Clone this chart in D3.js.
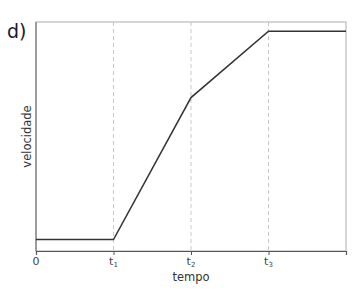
<!DOCTYPE html>
<html>
<head>
<meta charset="utf-8">
<script src="https://cdn.jsdelivr.net/npm/d3@7"></script>
<style>
  body { margin: 0; background: #fff; }
  svg text { font-family: "DejaVu Sans", sans-serif; }
</style>
</head>
<body>
<div id="chart"></div>
<script>
// time points (0, t1, t2, t3, end) and speeds
var times = [0, 1, 2, 3, 4];
var speeds = [0.5, 0.5, 6.7, 9.6, 9.6];
var tickTimes = [0, 1, 2, 3];
var tickNames = ["0", "t", "t", "t"];
var tickSubs = ["", "1", "2", "3"];

var width = 354, height = 293;
var margin = {top: 22, right: 8, bottom: 42, left: 36};

var svg = d3.select("#chart").append("svg")
  .attr("width", width)
  .attr("height", height);

var x = d3.scaleLinear().domain([0, 4]).range([margin.left, width - margin.right]);
var y = d3.scaleLinear().domain([0, 10]).range([height - margin.bottom, margin.top]);

// light frame on top and right
svg.append("rect")
  .attr("x", x(0)).attr("y", y(10))
  .attr("width", x(4) - x(0)).attr("height", y(0) - y(10))
  .attr("fill", "none")
  .attr("stroke", "#c8c8c8")
  .attr("stroke-width", 1.5);

// dashed guides at t1, t2, t3
svg.selectAll("line.guide")
  .data(tickTimes.slice(1))
  .enter().append("line")
  .attr("class", "guide")
  .attr("x1", function (d) { return x(d); })
  .attr("x2", function (d) { return x(d); })
  .attr("y1", y(10))
  .attr("y2", y(0))
  .attr("stroke", "#c8c8c8")
  .attr("stroke-dasharray", "4,3");

// left axis
svg.append("line")
  .attr("x1", x(0)).attr("x2", x(0))
  .attr("y1", y(10)).attr("y2", y(0))
  .attr("stroke", "#888").attr("stroke-width", 1.5);

// bottom axis
var xAxis = d3.axisBottom(x).tickValues(tickTimes).tickSize(4).tickFormat("");
var gx = svg.append("g")
  .attr("transform", "translate(0," + y(0) + ")")
  .call(xAxis);
gx.select(".domain").attr("stroke", "#555").attr("stroke-width", 1.2);
gx.selectAll(".tick line").attr("stroke", "#555");

// tick labels with subscripts
var lab = svg.selectAll("text.tl")
  .data(tickTimes)
  .enter().append("text")
  .attr("class", "tl")
  .attr("x", function (d) { return x(d); })
  .attr("y", y(0) + 14)
  .attr("text-anchor", "middle")
  .attr("font-size", 11)
  .attr("fill", "#444");
lab.append("tspan")
  .text(function (d, i) { return tickNames[i]; });
lab.append("tspan")
  .attr("dy", 2)
  .attr("font-size", 7)
  .text(function (d, i) { return tickSubs[i]; });

// speed line
var line = d3.line()
  .x(function (d, i) { return x(times[i]); })
  .y(function (d) { return y(d); });

svg.append("path")
  .datum(speeds)
  .attr("d", line)
  .attr("fill", "none")
  .attr("stroke", "#333")
  .attr("stroke-width", 1.5);

// axis titles
svg.append("text")
  .attr("x", x(2))
  .attr("y", 281)
  .attr("text-anchor", "middle")
  .attr("font-size", 11.5)
  .attr("fill", "#333")
  .text("tempo");

svg.append("text")
  .attr("transform", "translate(31," + ((y(0) + y(10)) / 2) + ") rotate(-90)")
  .attr("text-anchor", "middle")
  .attr("font-size", 11.5)
  .attr("fill", "#333")
  .text("velocidade");

// panel label
svg.append("text")
  .attr("x", 7)
  .attr("y", 38)
  .attr("font-size", 19)
  .attr("fill", "#1a1a2e")
  .text("d)");
</script>
</body>
</html>
